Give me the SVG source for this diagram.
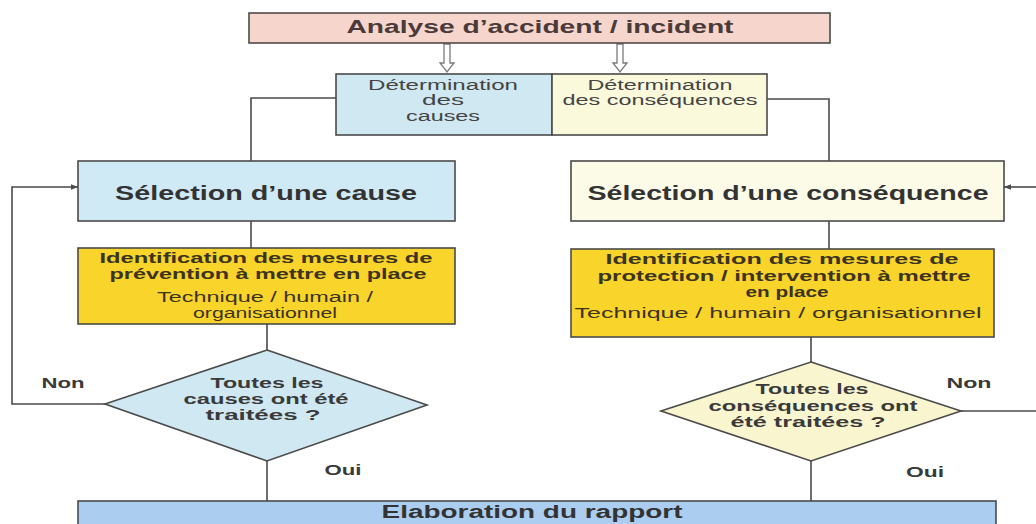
<svg xmlns="http://www.w3.org/2000/svg" width="1036" height="524" viewBox="0 0 1036 524">
  <defs>
    <style>
      .box { stroke: #4a4a4a; stroke-width: 1.6; }
      .link { fill: none; stroke: #4a4a4a; stroke-width: 1.6; }
      .hollow { fill: #ffffff; stroke: #7a7a7a; stroke-width: 1.3; }
      text { font-family: "Liberation Sans", Arial, sans-serif; fill: #333333; text-anchor: middle; }
      .b { font-weight: bold; }
      .title { font-size: 19px; font-weight: bold; fill: #4a3a3a; }
      .det { font-size: 14px; fill: #444444; }
      .sel { font-size: 20px; font-weight: bold; }
      .id { font-size: 15px; font-weight: bold; fill: #3c3320; }
      .tech { font-size: 14px; fill: #3c3320; }
      .q { font-size: 14px; font-weight: bold; fill: #3a3a3a; }
      .lbl { font-size: 14px; font-weight: bold; fill: #3a3a3a; }
    </style>
    <marker id="arr" viewBox="0 0 10 10" refX="10" refY="5" markerWidth="9" markerHeight="7" markerUnits="userSpaceOnUse" orient="auto">
      <path d="M0,1 L10,5 L0,9 z" fill="#4a4a4a"/>
    </marker>
  </defs>

  <rect width="1036" height="524" fill="#ffffff"/>

  <!-- connectors -->
  <g id="connectors">
    <!-- hollow arrows from the analysis box -->
    <path class="hollow" d="M444,44 L450,44 L450,63 L454,63 L447,72 L440,63 L444,63 Z"/>
    <path class="hollow" d="M617,44 L623,44 L623,63 L627,63 L620,72 L613,63 L617,63 Z"/>
    <!-- causes branch -->
    <path class="link" d="M336,98 L251,98 L251,161"/>
    <path class="link" d="M251,221 L251,248"/>
    <path class="link" d="M267,324 L267,350"/>
    <path class="link" d="M267,461 L267,501"/>
    <path class="link" d="M105,404 L12,404 L12,187 L78,187" marker-end="url(#arr)"/>
    <!-- consequences branch -->
    <path class="link" d="M767,99 L829,99 L829,161"/>
    <path class="link" d="M829,221 L829,249"/>
    <path class="link" d="M811,337 L811,362"/>
    <path class="link" d="M811,461 L811,501"/>
    <path class="link" d="M961,411 L1036,411"/>
    <path class="link" d="M1036,187 L1004,187" stroke="#8a8a9a" marker-end="url(#arr)"/>
  </g>

  <g id="analyse">
    <rect class="box" x="249" y="13" width="581" height="30" fill="#f6d5cd"/>
    <text class="title" x="540" y="33" textLength="387" lengthAdjust="spacingAndGlyphs">Analyse d’accident / incident</text>
  </g>

  <g id="det-causes">
    <rect class="box" x="336" y="74" width="216" height="61" fill="#cfe8f1"/>
    <text class="det" x="443" y="90" textLength="150" lengthAdjust="spacingAndGlyphs">Détermination</text>
    <text class="det" x="443" y="105" textLength="42" lengthAdjust="spacingAndGlyphs">des</text>
    <text class="det" x="443" y="121" textLength="74" lengthAdjust="spacingAndGlyphs">causes</text>
  </g>

  <g id="det-consequences">
    <rect class="box" x="552" y="74" width="215" height="61" fill="#fbf9dc"/>
    <text class="det" x="660" y="90" textLength="145" lengthAdjust="spacingAndGlyphs">Détermination</text>
    <text class="det" x="660" y="105" textLength="195" lengthAdjust="spacingAndGlyphs">des conséquences</text>
  </g>

  <g id="sel-cause">
    <rect class="box" x="78" y="161" width="377" height="60" fill="#cfe9f5"/>
    <text class="sel" x="266" y="200" textLength="302" lengthAdjust="spacingAndGlyphs">Sélection d’une cause</text>
  </g>

  <g id="sel-consequence">
    <rect class="box" x="571" y="161" width="433" height="60" fill="#fcfbe8"/>
    <text class="sel" x="788" y="200" textLength="401" lengthAdjust="spacingAndGlyphs">Sélection d’une conséquence</text>
  </g>

  <g id="mesures-prevention">
    <rect class="box" x="78" y="248" width="377" height="76" fill="#f9d42a"/>
    <text class="id" x="266" y="263" textLength="333" lengthAdjust="spacingAndGlyphs">Identification des mesures de</text>
    <text class="id" x="268" y="279" textLength="317" lengthAdjust="spacingAndGlyphs">prévention à mettre en place</text>
    <text class="tech" x="265" y="302" textLength="216" lengthAdjust="spacingAndGlyphs">Technique / humain /</text>
    <text class="tech" x="265" y="318" textLength="144" lengthAdjust="spacingAndGlyphs">organisationnel</text>
  </g>

  <g id="mesures-protection">
    <rect class="box" x="571" y="249" width="423" height="88" fill="#f9d42a"/>
    <text class="id" x="782" y="264" textLength="353" lengthAdjust="spacingAndGlyphs">Identification des mesures de</text>
    <text class="id" x="784" y="281" textLength="373" lengthAdjust="spacingAndGlyphs">protection / intervention à mettre</text>
    <text class="id" x="787" y="297" textLength="83" lengthAdjust="spacingAndGlyphs">en place</text>
    <text class="tech" x="778" y="318" textLength="407" lengthAdjust="spacingAndGlyphs">Technique / humain / organisationnel</text>
  </g>

  <g id="test-causes">
    <polygon class="box" points="267,350 427,405 267,461 105,404" fill="#cfe8f1"/>
    <text class="q" x="267" y="388" textLength="113" lengthAdjust="spacingAndGlyphs">Toutes les</text>
    <text class="q" x="266" y="404" textLength="165" lengthAdjust="spacingAndGlyphs">causes ont été</text>
    <text class="q" x="263" y="420" textLength="115" lengthAdjust="spacingAndGlyphs">traitées ?</text>
  </g>

  <g id="test-consequences">
    <polygon class="box" points="811,362 961,411 811,461 661,411" fill="#f9f6cf"/>
    <text class="q" x="812" y="394" textLength="113" lengthAdjust="spacingAndGlyphs">Toutes les</text>
    <text class="q" x="813" y="411" textLength="209" lengthAdjust="spacingAndGlyphs">conséquences ont</text>
    <text class="q" x="808" y="427" textLength="155" lengthAdjust="spacingAndGlyphs">été traitées ?</text>
  </g>

  <g id="labels">
    <text class="lbl" x="63" y="388" textLength="43" lengthAdjust="spacingAndGlyphs">Non</text>
    <text class="lbl" x="969" y="388" textLength="45" lengthAdjust="spacingAndGlyphs">Non</text>
    <text class="lbl" x="343" y="475" textLength="37" lengthAdjust="spacingAndGlyphs">Oui</text>
    <text class="lbl" x="925" y="477" textLength="38" lengthAdjust="spacingAndGlyphs">Oui</text>
  </g>

  <g id="rapport">
    <rect class="box" x="78" y="501" width="918" height="30" fill="#abcef0"/>
    <text class="sel" x="532" y="518" textLength="301" lengthAdjust="spacingAndGlyphs" style="font-size:18px">Elaboration du rapport</text>
  </g>
</svg>
